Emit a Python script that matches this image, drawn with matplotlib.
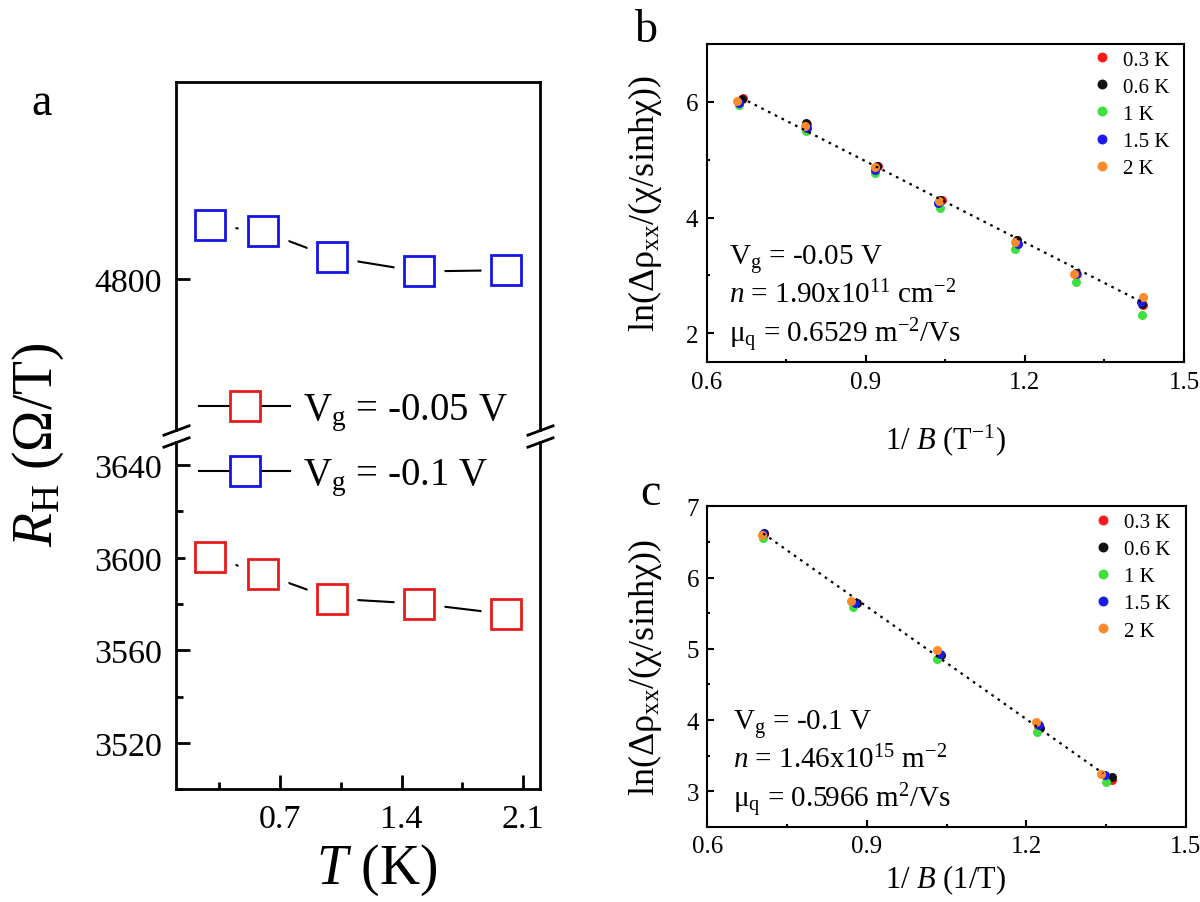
import matplotlib
matplotlib.use('Agg')
import matplotlib.pyplot as plt
from matplotlib.lines import Line2D
from matplotlib.ticker import MultipleLocator, FormatStrFormatter

plt.rcParams['font.family'] = 'Liberation Serif'
plt.rcParams['mathtext.fontset'] = 'custom'
plt.rcParams['mathtext.rm'] = 'Liberation Serif'
plt.rcParams['mathtext.it'] = 'Liberation Serif:italic'
plt.rcParams['mathtext.bf'] = 'Liberation Serif:bold'

# ---- panel a: Hall coefficient vs temperature ----
temps = [0.3, 0.6, 1.0, 1.5, 2.0]
rh_005 = [3600.4, 3593.2, 3582.4, 3580.2, 3575.7]   # Vg = -0.05 V
rh_01 = [4823.2, 4820.6, 4809.4, 4803.3, 4803.8]    # Vg = -0.1 V
gate_labels = ['V$_\\mathrm{g}$ = -0.05 V', 'V$_\\mathrm{g}$ = -0.1 V']

# ---- panels b, c: Dingle plots, one series per temperature ----
temp_labels = ['0.3 K', '0.6 K', '1 K', '1.5 K', '2 K']
temp_colors = ['#ff1a1a', '#111111', '#3ee03e', '#1a1aee', '#ff8a2a']

b_x_03 = [0.669, 0.790, 0.923, 1.044, 1.185, 1.299, 1.423]
b_y_03 = [6.06, 5.61, 4.89, 4.30, 3.61, 3.03, 2.49]
b_x_06 = [0.666, 0.788, 0.921, 1.040, 1.185, 1.297, 1.421]
b_y_06 = [6.05, 5.63, 4.89, 4.30, 3.61, 3.04, 2.51]
b_x_1 = [0.661, 0.787, 0.918, 1.040, 1.182, 1.296, 1.421]
b_y_1 = [5.94, 5.49, 4.77, 4.16, 3.45, 2.89, 2.32]
b_x_15 = [0.661, 0.790, 0.917, 1.036, 1.187, 1.296, 1.418]
b_y_15 = [5.98, 5.55, 4.83, 4.26, 3.55, 3.02, 2.55]
b_x_2 = [0.657, 0.785, 0.917, 1.038, 1.182, 1.292, 1.423]
b_y_2 = [6.01, 5.59, 4.87, 4.29, 3.58, 3.03, 2.62]
b_fit_x = [0.665, 1.425]
b_fit_y = [6.07, 2.52]

c_x_03 = [0.707, 0.879, 1.038, 1.222, 1.361]
c_y_03 = [6.61, 5.64, 4.92, 3.91, 3.16]
c_x_06 = [0.706, 0.881, 1.040, 1.225, 1.362]
c_y_06 = [6.62, 5.64, 4.91, 3.89, 3.20]
c_x_1 = [0.704, 0.875, 1.033, 1.220, 1.350]
c_y_1 = [6.55, 5.59, 4.86, 3.83, 3.13]
c_x_15 = [0.704, 0.878, 1.037, 1.224, 1.349]
c_y_15 = [6.61, 5.65, 4.93, 3.93, 3.23]
c_x_2 = [0.702, 0.871, 1.033, 1.218, 1.340]
c_y_2 = [6.60, 5.67, 4.99, 3.98, 3.25]
c_fit_x = [0.705, 1.345]
c_fit_y = [6.62, 3.25]

b_notes = ['V$_\\mathrm{g}$ = -0.05 V',
           '$n$ = 1.90x10$^{11}$ cm$^{-2}$',
           'μ$_\\mathrm{q}$ = 0.6529 m$^{-2}$/Vs']
c_notes = ['V$_\\mathrm{g}$ = -0.1 V',
           '$n$ = 1.46x10$^{15}$ m$^{-2}$',
           'μ$_\\mathrm{q}$ = 0.5966 m$^{2}$/Vs']

RED = '#e81c1c'
BLUE = '#1414e6'

fig = plt.figure(figsize=(12, 9.03), dpi=100)

# ---------- panel a (broken y axis) ----------
ax_hi = fig.add_axes([0.1464, 0.5227, 0.3040, 0.3857])
ax_lo = fig.add_axes([0.1464, 0.1246, 0.3040, 0.3849])

for ax, vals, col in [(ax_lo, rh_005, RED), (ax_hi, rh_01, BLUE)]:
    ax.plot(temps, vals, color='k', lw=1.5, zorder=2)
    # white squares leave a gap in the line around every symbol
    ax.plot(temps, vals, ls='none', marker='s', ms=36, mfc='white', mec='none', zorder=3)
    ax.plot(temps, vals, ls='none', marker='s', ms=21, mfc='white', mec=col, mew=2, zorder=4)
    ax.set_xlim(0.1, 2.2)
    for s in ax.spines.values():
        s.set_linewidth(2)
    ax.tick_params(which='both', direction='in', width=2, labelsize=24.5, pad=10,
                   top=False, right=False)
    ax.tick_params(which='major', length=10)
    ax.tick_params(which='minor', length=5)

ax_hi.set_ylim(4735, 4885)
ax_hi.set_yticks([4800])
ax_hi.spines['bottom'].set_visible(False)
ax_hi.tick_params(axis='x', which='both', bottom=False, labelbottom=False)

ax_lo.set_ylim(3500, 3650)
ax_lo.spines['top'].set_visible(False)
ax_lo.yaxis.set_major_locator(MultipleLocator(40))
ax_lo.yaxis.set_minor_locator(MultipleLocator(20))
ax_lo.xaxis.set_major_locator(MultipleLocator(0.7))
ax_lo.xaxis.set_minor_locator(MultipleLocator(0.35))
ax_lo.xaxis.set_major_formatter(FormatStrFormatter('%.1f'))

# break marks
brk = dict(marker=[(-1, -0.37), (1, 0.37)], markersize=20, linestyle='none',
           color='k', mec='k', mew=2, clip_on=False, zorder=10)
ax_hi.plot([0, 1], [0, 0], transform=ax_hi.transAxes, **brk)
ax_lo.plot([0, 1], [1, 1], transform=ax_lo.transAxes, **brk)

handles = [Line2D([], [], color='k', lw=1.5, marker='s', ms=21, mfc='white', mec=c, mew=2)
           for c in (RED, BLUE)]
ax_lo.legend(handles, gate_labels, loc='center left',
             bbox_to_anchor=(199 / 1200, 1 - 445.5 / 903), bbox_transform=fig.transFigure,
             frameon=False, fontsize=28, handlelength=2.34, handletextpad=0.33,
             labelspacing=0.6, borderpad=0, borderaxespad=0)

fig.text(0.032, 0.507, '$R_\\mathrm{H}$ (Ω/T)', rotation=90, ha='center', va='center', fontsize=40)
fig.text(377 / 1200, 0.0365, '$T$ (K)', ha='center', va='center', fontsize=40)
fig.text(0.035, 1 - 115 / 903, 'a', ha='center', va='baseline', fontsize=33)


# ---------- panels b and c ----------
def dingle_panel(ax, series, fit_x, fit_y, ylim, notes, note_x, note_ys, leg_anchor):
    for (xs, ys), col, lab in zip(series, temp_colors, temp_labels):
        ax.plot(xs, ys, ls='none', marker='o', ms=6.5, mfc=col, mec='none', label=lab, zorder=3)
    ax.plot(fit_x, fit_y, color='k', lw=1.6, ls=(0, (1.2, 2.2)), zorder=4)
    ax.set_xlim(0.6, 1.5)
    ax.set_ylim(*ylim)
    ax.xaxis.set_major_locator(MultipleLocator(0.3))
    ax.xaxis.set_minor_locator(MultipleLocator(0.15))
    ax.xaxis.set_major_formatter(FormatStrFormatter('%.1f'))
    for s in ax.spines.values():
        s.set_linewidth(1.5)
    ax.tick_params(which='both', direction='in', width=1.5, labelsize=18, pad=6,
                   top=False, right=False)
    ax.tick_params(which='major', length=5)
    ax.tick_params(which='minor', length=2.5)
    for txt, y in zip(notes, note_ys):
        ax.text(note_x, y, txt, transform=ax.transAxes, fontsize=21, va='baseline', ha='left')
    ax.legend(loc='upper left', bbox_to_anchor=leg_anchor, bbox_transform=fig.transFigure,
              frameon=False, fontsize=15, handlelength=0.88, handletextpad=0.6,
              labelspacing=0.36, borderpad=0, borderaxespad=0, markerscale=1.1)


ax_b = fig.add_axes([0.5889, 0.5977, 0.3978, 0.3525])
dingle_panel(ax_b,
             [(b_x_03, b_y_03), (b_x_06, b_y_06), (b_x_1, b_y_1), (b_x_15, b_y_15), (b_x_2, b_y_2)],
             b_fit_x, b_fit_y, (1.5, 7), b_notes, 0.047, [0.309, 0.189, 0.064],
             (1092.5 / 1200, 1 - 51 / 903))
ax_b.yaxis.set_major_locator(MultipleLocator(2))
ax_b.yaxis.set_minor_locator(MultipleLocator(1))

ax_c = fig.add_axes([0.5894, 0.0831, 0.3987, 0.3551])
dingle_panel(ax_c,
             [(c_x_03, c_y_03), (c_x_06, c_y_06), (c_x_1, c_y_1), (c_x_15, c_y_15), (c_x_2, c_y_2)],
             c_fit_x, c_fit_y, (2.5, 7), c_notes, 0.054, [0.306, 0.187, 0.062],
             (1093.5 / 1200, 1 - 513.6 / 903))
ax_c.yaxis.set_major_locator(MultipleLocator(1))
ax_c.yaxis.set_minor_locator(MultipleLocator(0.5))

ylab = 'ln(Δρ$_\\mathrm{xx}$/(χ/sinhχ))'
fig.text(0.5375, 0.774, ylab, rotation=90, ha='center', va='center', fontsize=26)
fig.text(0.5375, 0.2603, ylab, rotation=90, ha='center', va='center', fontsize=26)
fig.text(0.7875, 1 - 440 / 903, '1/ $B$ (T$^{-1}$)', ha='center', va='center', fontsize=22)
fig.text(0.7875, 1 - 880 / 903, '1/ $B$ (1/T)', ha='center', va='center', fontsize=22)
fig.text(646.5 / 1200, 1 - 41.7 / 903, 'b', ha='center', va='baseline', fontsize=33)
fig.text(650 / 1200, 1 - 505 / 903, 'c', ha='center', va='baseline', fontsize=33)

fig.savefig('out.png', dpi=100)
